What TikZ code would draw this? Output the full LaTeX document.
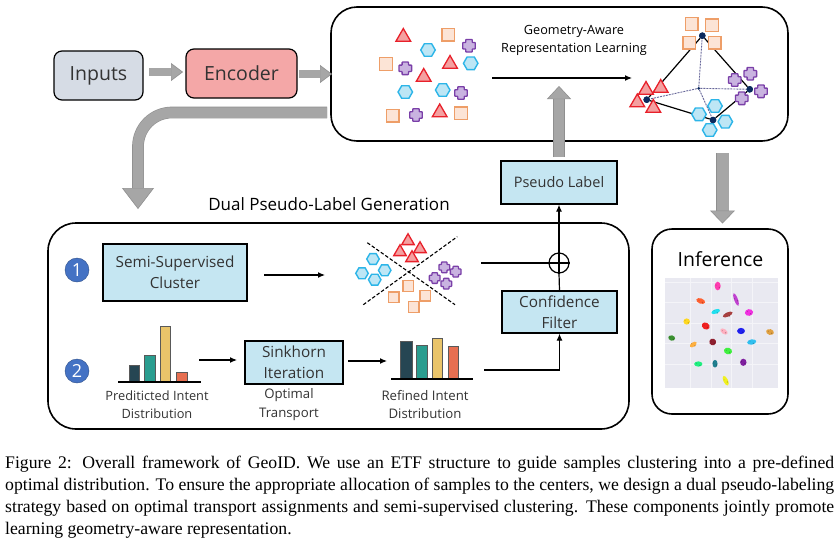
\documentclass[tikz,border=0pt]{standalone}
\usepackage{fontspec}
\setmainfont{Open Sans}
\newfontfamily\capfont{Liberation Serif}
\usetikzlibrary{positioning,arrows.meta,shapes.geometric}
\definecolor{boxblue}{HTML}{C5E6F2}
\definecolor{inputgray}{HTML}{D6DCE5}
\definecolor{encred}{HTML}{F4A7A7}
\definecolor{arrowgray}{HTML}{A6A6A6}
\definecolor{arrowedge}{HTML}{8F8F8F}
\definecolor{textdark}{HTML}{333333}
\definecolor{sqline}{HTML}{EE9E68}
\definecolor{sqfill}{HTML}{FCE4D6}
\definecolor{triline}{HTML}{E8202A}
\definecolor{trifill}{HTML}{F4A0A0}
\definecolor{hexline}{HTML}{2CB5E8}
\definecolor{hexfill}{HTML}{BDE6F5}
\definecolor{plusline}{HTML}{7A3FA8}
\definecolor{plusfill}{HTML}{C9B3E0}
\definecolor{dotblue}{HTML}{0B2A5E}
\definecolor{numblue}{HTML}{4472C4}
\tikzset{
	module/.style={
		draw=black, line width=1.2pt, fill=boxblue,
		inner sep=0pt, align=center, text=textdark,
		font=\fontsize{15.3}{21}\selectfont
	},
	panel/.style={
		draw=black, line width=1.6pt, fill=white,
		inner sep=0pt, rounded corners=#1
	},
	panel/.default=26pt,
	note/.style={align=center, text=textdark, font=\fontsize{13.2}{18.5}\selectfont},
	num/.style={
		circle, fill=numblue, draw=numblue!70!black, text=white, inner sep=0pt,
		minimum size=24pt, font=\fontsize{18}{18}\selectfont
	},
	sq/.style={draw=sqline, fill=sqfill, line width=1.4pt, minimum size=12.5pt, inner sep=0pt},
	tri/.style={regular polygon, regular polygon sides=3, draw=triline, fill=trifill,
		line width=1.3pt, minimum size=17pt, inner sep=0pt},
	hex/.style={regular polygon, regular polygon sides=6, draw=hexline, fill=hexfill,
		line width=1.4pt, minimum size=14.5pt, inner sep=0pt},
	plusmark/.pic={
		\draw[draw=plusline, fill=plusfill, line width=1.3pt, rounded corners=.6pt]
			(-3.2,-6.3) -- (3.2,-6.3) -- (3.2,-3.2) -- (6.3,-3.2) -- (6.3,3.2) -- (3.2,3.2)
			-- (3.2,6.3) -- (-3.2,6.3) -- (-3.2,3.2) -- (-6.3,3.2) -- (-6.3,-3.2) -- (-3.2,-3.2) -- cycle;
	},
	center dot/.style={circle, fill=dotblue, inner sep=0pt, minimum size=#1},
	center dot/.default=6.5pt,
	bigarrow/.style={
		draw=arrowedge, line width=.6pt, double=arrowgray, double distance=#1
	},
	bighead/.style 2 args={-{Triangle[length=#1,width=#2,fill=arrowgray,line width=.6pt]}},
	thinarrow/.style={->, line width=1.2pt},
	>={LaTeX[length=7pt,width=6pt]}
}

\begin{document}
\begin{tikzpicture}[x=1pt,y=-1pt]
	\useasboundingbox (0,0) rectangle (840,541);

	% panels
	\node[panel, minimum width=457pt, minimum height=134pt] (geometry) at (559.5,74) {};
	\node[panel=28pt, minimum width=581pt, minimum height=206pt] (dual) at (338.5,326) {};
	\node[panel=20pt, minimum width=136pt, minimum height=185pt] (inference) at (720,321.5) {};

	% top row
	\node[module, draw=black, fill=inputgray, rounded corners=8pt, minimum width=89pt, minimum height=49pt,
		font=\fontsize{19.5}{20}\selectfont] (inputs) at (98.5,75.5) {Inputs};
	\node[module, fill=encred, rounded corners=8pt, minimum width=111pt, minimum height=49pt,
		font=\fontsize{19.5}{20}\selectfont] (encoder) at (241.5,73.5) {Encoder};

	\node[module, minimum width=144pt, minimum height=57pt] (semi) at (175,272.5) {Semi-Supervised\\Cluster};
	\node[module, minimum width=98pt, minimum height=43pt] (sinkhorn) at (294,362.5) {Sinkhorn\\Iteration};
	\node[module, minimum width=115pt, minimum height=42pt] (confidence) at (559.5,312) {Confidence\\Filter};
	\node[module, minimum width=116pt, minimum height=43pt, font=\fontsize{14.5}{21}\selectfont] (pseudo) at (559,182.5) {Pseudo Label};

	\node[num] (one) at (77,270) {1};
	\node[num] (two) at (77,371) {2};

	\node[text=black, font=\fontsize{17}{18}\selectfont] (dualtitle) at (329,204) {Dual Pseudo-Label Generation};
	\node[text=black, font=\fontsize{19.5}{22}\selectfont] (inftitle) at (720.5,259) {Inference};
	\node[note, font=\fontsize{12.7}{18}\selectfont, text=black] (geomtitle) at (574,40) {Geometry-Aware\\Representation Learning};

	\node[note, font=\fontsize{12.8}{18.5}\selectfont] (predlabel) at (157,404.5) {Prediticted Intent\\Distribution};
	\node[note] (otlabel) at (289,404.5) {Optimal\\Transport};
	\node[note] (reflabel) at (425,404.5) {Refined Intent\\Distribution};

	% scattered samples, left of the big arrow
	\foreach \x/\y [count=\i] in {448.3/34.7,386/64,392.7/115.7,461/113.3}
		\node[sq] (mixsq\i) at (\x,\y) {};
	\foreach \x/\y [count=\i] in {403.3/37,450/64,423.7/77,439.7/112.5}
		\node[tri] (mixtri\i) at (\x,\y) {};
	\foreach \x/\y [count=\i] in {428/50,470.7/63.3,405.3/92,442.7/90}
		\node[hex] (mixhex\i) at (\x,\y) {};
	\foreach \x/\y in {469/45.7,405.3/68.3,461/93,416/115}
		\pic at (\x,\y) {plusmark};

	% ETF structure
	\node[center dot] (etfsq) at (702.3,35.7) {};
	\node[center dot] (etftri) at (646.7,99.7) {};
	\node[center dot] (etfplus) at (749.7,89.3) {};
	\node[center dot] (etfhex) at (713,120) {};
	\node[center dot=3pt] (etfmid) at (698.7,88.3) {};
	\foreach \other in {etfsq,etftri,etfplus,etfhex}
		\draw[dashed, dash pattern=on 2pt off 1pt, draw=gray!80!blue, line width=.9pt] (etfmid) -- (\other);
	\draw[line width=1.2pt] (etfsq) -- (etftri) -- (etfhex) -- (etfplus) -- (etfsq);
	\foreach \x/\y [count=\i] in {691.7/24,712/25.3,689.3/42.7,714.7/42.7}
		\node[sq] (etfsq\i) at (\x,\y) {};
	\foreach \x/\y [count=\i] in {646/90,660.7/88,637.3/102.5,653.3/108}
		\node[tri] (etftri\i) at (\x,\y) {};
	\foreach \x/\y [count=\i] in {715/106,699/114.3,725.3/121.7,709.7/130}
		\node[hex] (etfhex\i) at (\x,\y) {};
	\foreach \x/\y in {734.7/80,750.3/73.7,761/91.3,741.7/98.3}
		\pic at (\x,\y) {plusmark};
	% the dots sit on top of the marks
	\node[center dot] at (etfsq) {};
	\node[center dot] at (etftri) {};
	\node[center dot] at (etfplus) {};
	\node[center dot] at (etfhex) {};

	% clusters split by the two dashed lines
	\coordinate (splitAa) at (367.3,242.7);
	\coordinate (splitAb) at (455,304.7);
	\coordinate (splitBa) at (363.3,304.7);
	\coordinate (splitBb) at (457.3,236.7);
	\draw[dash pattern=on 3.5pt off 2pt, line width=1.1pt] (splitAa) -- (splitAb);
	\draw[dash pattern=on 3.5pt off 2pt, line width=1.1pt] (splitBa) -- (splitBb);
	\foreach \x/\y [count=\i] in {408.3/286,425.3/295.7,393.7/297.3,413.7/307}
		\node[sq, minimum size=10.5pt] (clsq\i) at (\x,\y) {};
	\foreach \x/\y [count=\i] in {408/241,420/249,400/252,412/258}
		\node[tri, minimum size=14.5pt] (cltri\i) at (\x,\y) {};
	\foreach \x/\y [count=\i] in {373/259,384.7/270.3,362/273.3,374.7/279.7}
		\node[hex, minimum size=12.5pt] (clhex\i) at (\x,\y) {};
	\foreach \x/\y in {444.3/267.3,455.7/271.7,434.7/278,446.3/283.7}
		\pic[scale=.85] at (\x,\y) {plusmark};

	% predicted distribution
	\foreach \xa/\xb/\top/\col in {129/139/365/264653,144/155/355/2A9D8F,160/170/326/E9C46A,176/187/372/E76F51}{
		\definecolor{barcol}{HTML}{\col}
		\draw[fill=barcol, draw=gray!70!black, line width=.6pt] (\xa,382) rectangle (\xb,\top);
	}
	\draw[line width=1.2pt] (118,382) -- (201,382);

	% refined distribution
	\foreach \xa/\xb/\top/\col in {400/412/341/264653,416/427/345/2A9D8F,432/442/338/E9C46A,448/458/346/E76F51}{
		\definecolor{barcol}{HTML}{\col}
		\draw[fill=barcol, draw=gray!70!black, line width=.6pt] (\xa,379) rectangle (\xb,\top);
	}
	\draw[line width=1.2pt] (391,379) -- (473,379);

	% scatter in the inference panel
	\definecolor{gridbg}{HTML}{E9E9F1}
	\fill[gridbg] (665,278) rectangle (778,388);
	\foreach \x in {690.7,711,731.7,752.3}
		\draw[white!50!gridbg, line width=.5pt] (\x,278) -- (\x,388);
	\foreach \y in {282.7,302.7,323.3,343.7,364.3}
		\draw[white!50!gridbg, line width=.5pt] (665,\y) -- (778,\y);
	\foreach \x/\y/\rx/\ry/\a/\col in {
		717.7/286/2.6/3.6/0/FF3DB0, 736/299.5/1.6/5.6/20/C040D0, 700.7/301/4/2.2/-20/FF6030,
		715.7/311.5/4/1.8/20/20E0F0, 727.7/314.5/4.6/1.8/25/A84040, 749/312.5/3.6/2.8/10/F030E0,
		686.7/321.5/2.8/2.6/0/FFD820, 705.7/326/3.6/2.8/-30/F02020, 724/331.5/3.6/2/-35/FFB0C0,
		741/331/3.4/2.6/0/2020F0, 770/332/3.4/2.4/-15/E0A040, 671.7/338/3/2.2/-15/3A9030,
		693.3/344.5/3.4/1.8/35/FFB040, 712.7/342/3/2.8/-20/902030, 751.7/342/4/2.2/10/30C0F0,
		728/351/3.6/2.8/-15/40F040, 698.3/364/3.6/2.2/0/20F080, 715/363.7/2.2/3.2/0/208090,
		743.3/362.3/2.8/3/0/8020A0, 725.7/380.7/2/4.4/25/F0F020}{
		\definecolor{blobcol}{HTML}{\col}
		\fill[blobcol, rotate around={\a:(\x,\y)}] (\x,\y) ellipse (1.15*\rx pt and 1.2*\ry pt);
		\fill[blobcol!75!black] (\x+1.6,\y+1.3) circle (.7pt) (\x-1.7,\y-.8) circle (.5pt);
	}

	% free ends of the connectors
	\coordinate (mixright) at (492,78);
	\coordinate (etfleft) at (632,78);
	\coordinate (semiout) at (264,275);
	\coordinate (clusterin) at (325,275);
	\coordinate (predout) at (199,360);
	\coordinate (sinkin) at (237,360);
	\coordinate (sinkout) at (348,361);
	\coordinate (refin) at (387,361);
	\coordinate (refout) at (484,370);
	\coordinate (clusterout) at (481,263);
	\node[draw=black, circle, line width=1.2pt, minimum size=20pt, inner sep=0pt] (sum) at (559,263) {};
	\coordinate (inputsout) at (149,72);
	\coordinate (encin) at (183,72);
	\coordinate (encout) at (299,74);
	\coordinate (geomin) at (332,74);
	\coordinate (geomout) at (327,112.5);
	\coordinate (dualin) at (138,209);
	\coordinate (pseudoup) at (559,157);
	\coordinate (geomarrow) at (559,86);
	\coordinate (geomdown) at (722.5,153);
	\coordinate (infin) at (722.5,223.5);

	% thin arrows
	\draw[thinarrow] (mixright) -- (etfleft);
	\draw[thinarrow] (semiout) -- (clusterin);
	\draw[thinarrow] (predout) -- (sinkin);
	\draw[thinarrow] (sinkout) -- (refin);
	\draw[thinarrow] (refout) -| (confidence.south);
	\draw[line width=1.2pt] (clusterout) -- (sum.west);
	\draw[line width=1.2pt] (sum.west) -- (sum.east);
	\draw[line width=1.2pt] (confidence.north) -- (sum.south);
	\draw[line width=1.2pt] (sum.south) -- (sum.north);
	\draw[thinarrow] (sum.north) -- (pseudo.south);

	% big gray arrows
	\draw[bigarrow=7.5pt, bighead={12pt}{18pt}] (inputsout) -- (encin);
	\draw[bigarrow=7.5pt, bighead={12pt}{18pt}] (encout) -- (geomin);
	\draw[bigarrow=10.5pt, rounded corners=34pt, bighead={21pt}{32pt}] (geomout) -| (dualin);
	\draw[bigarrow=10.5pt, bighead={13pt}{24pt}] (pseudoup) -- (geomarrow);
	\draw[bigarrow=12pt, bighead={13pt}{25pt}] (geomdown) -- (infin);

	% caption
	\node[anchor=north west, inner sep=0pt, text width=829pt, align=justify, text=black,
		font=\capfont\fontsize{17.7}{22}\selectfont] (caption) at (5,456)
		{Figure 2: Overall framework of GeoID. We use an ETF structure to guide samples clustering into a pre-defined\linebreak optimal distribution. To ensure the appropriate allocation of samples to the centers, we design a dual pseudo-labeling\linebreak strategy based on optimal transport assignments and semi-supervised clustering. These components jointly promote\linebreak learning geometry-aware representation.};
\end{tikzpicture}
\end{document}
